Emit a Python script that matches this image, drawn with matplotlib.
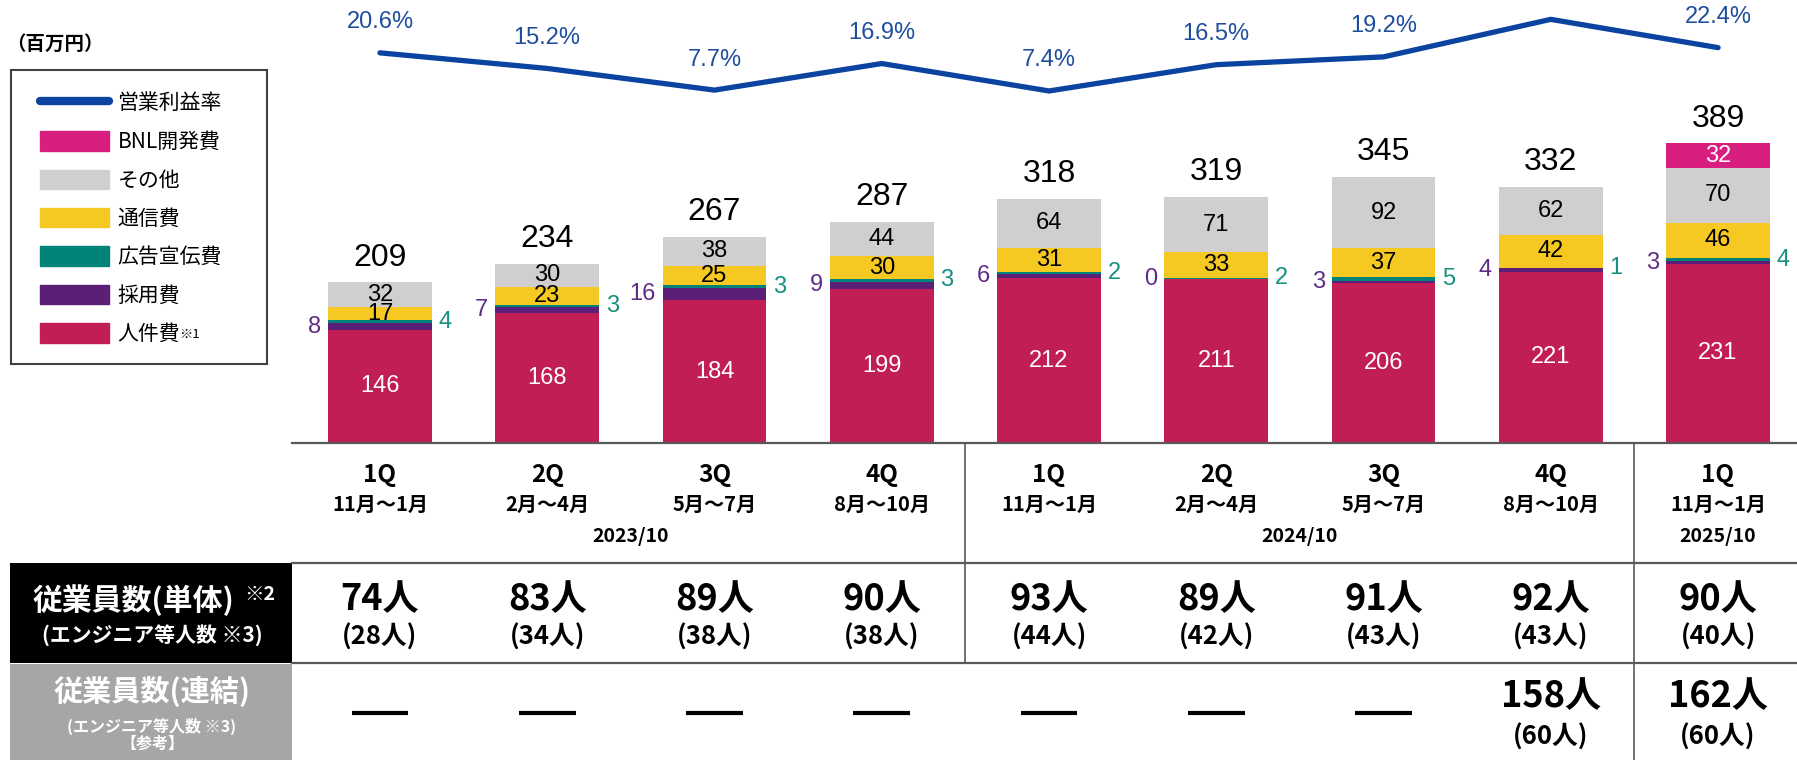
import numpy as np
import matplotlib.pyplot as plt
import matplotlib.transforms as mtransforms
from matplotlib.patches import Patch, Rectangle
from matplotlib.lines import Line2D

plt.rcParams['font.family'] = ['Liberation Sans', 'Noto Sans CJK JP']
NARROW = ['Liberation Sans Narrow', 'Noto Sans CJK JP']
CJK = ['Noto Sans CJK JP', 'Liberation Sans']

# ---- data ----
quarters = ['1Q', '2Q', '3Q', '4Q', '1Q', '2Q', '3Q', '4Q', '1Q']
months = ['11月～1月', '2月～4月', '5月～7月', '8月～10月',
          '11月～1月', '2月～4月', '5月～7月', '8月～10月', '11月～1月']
fiscal_years = ['2023/10', '2024/10', '2025/10']
fy_groups = [(0, 3), (4, 7), (8, 8)]

personnel = [146, 168, 184, 199, 212, 211, 206, 221, 231]   # 人件費
recruit = [8, 7, 16, 9, 6, 0, 3, 4, 3]                       # 採用費
advert = [4, 3, 3, 3, 2, 2, 5, 1, 4]                         # 広告宣伝費
telecom = [17, 23, 25, 30, 31, 33, 37, 42, 46]               # 通信費
other = [32, 30, 38, 44, 64, 71, 92, 62, 70]                 # その他
bnl = [0, 0, 0, 0, 0, 0, 0, 0, 32]                           # BNL開発費
totals = [209, 234, 267, 287, 318, 319, 345, 332, 389]

op_margin = [20.6, 15.2, 7.7, 16.9, 7.4, 16.5, 19.2, 32.2, 22.4]
margin_labels = ['20.6%', '15.2%', '7.7%', '16.9%', '7.4%', '16.5%', '19.2%', None, '22.4%']

staff_single = [74, 83, 89, 90, 93, 89, 91, 92, 90]
eng_single = [28, 34, 38, 38, 44, 42, 43, 43, 40]
staff_consol = [None, None, None, None, None, None, None, 158, 162]
eng_consol = [None, None, None, None, None, None, None, 60, 60]

c_personnel = '#C21E56'
c_recruit = '#5B1F78'
c_advert = '#00847A'
c_telecom = '#F5C922'
c_other = '#D0CECF'
c_bnl = '#D81F80'
c_line = '#0A43A0'

W_PX, H_PX = 1797, 760
fig = plt.figure(figsize=(W_PX / 100, H_PX / 100), dpi=100)

# pixel canvas for table frame, legend box etc.
axp = fig.add_axes([0, 0, 1, 1])
axp.set_xlim(0, W_PX)
axp.set_ylim(H_PX, 0)
axp.axis('off')

base_y = 443
ax = fig.add_axes([292 / W_PX, 1 - base_y / H_PX, (W_PX - 292) / W_PX, base_y / H_PX])
ax.patch.set_visible(False)
ax.set_xlim(-0.526, 8.472)
ax.set_ylim(0, base_y / 0.776)
for s in ['top', 'right', 'left']:
    ax.spines[s].set_visible(False)
ax.spines['bottom'].set_color('#595959')
ax.spines['bottom'].set_linewidth(1.6)
ax.set_xticks([])
ax.set_yticks([])

x = np.arange(len(quarters))
bw = 0.62
series = [(personnel, c_personnel), (recruit, c_recruit), (advert, c_advert),
          (telecom, c_telecom), (other, c_other), (bnl, c_bnl)]
bottoms = []
bottom = np.zeros(len(x))
for vals, col in series:
    vals = np.array(vals, dtype=float)
    ax.bar(x, vals, bw, bottom=bottom, color=col, linewidth=0)
    bottoms.append(bottom.copy())
    bottom = bottom + vals
top = bottom

# labels inside segments
inside = [(0, personnel, 'white'), (3, telecom, 'black'), (4, other, 'black'), (5, bnl, 'white')]
for k, vals, col in inside:
    for i, v in enumerate(vals):
        if v > 0:
            ax.text(i, bottoms[k][i] + v / 2, str(v), ha='center', va='center',
                    fontsize=17, color=col)

# side labels + totals
for i in x:
    ax.annotate(str(recruit[i]), xy=(i - bw / 2, bottoms[1][i] + recruit[i] / 2),
                xytext=(-5, 0), textcoords='offset points', ha='right', va='center',
                fontsize=17, color='#5E2C85')
    ax.annotate(str(advert[i]), xy=(i + bw / 2, bottoms[2][i] + advert[i] / 2),
                xytext=(5, 0), textcoords='offset points', ha='left', va='center',
                fontsize=17, color='#16907F')
    ax.annotate(str(totals[i]), xy=(i, top[i]), xytext=(0, 12), textcoords='offset points',
                ha='center', va='baseline', fontsize=23, color='black')

# operating margin line
ax2 = ax.twinx()
ax2.set_ylim(-114.5, 38.9)
ax2.axis('off')
ax2.plot(x, op_margin, color=c_line, lw=3.8, solid_capstyle='round', solid_joinstyle='miter')
for i, lab in enumerate(margin_labels):
    if lab:
        ax2.annotate(lab, xy=(i, op_margin[i]), xytext=(0, 22), textcoords='offset points',
                     ha='center', va='center', fontsize=17, color='#1F4E9E')

# ---- table below ----
bt = mtransforms.blended_transform_factory(ax.transData, axp.transData)
for i in x:
    axp.text(i, 475, quarters[i], transform=bt, ha='center', va='center',
             fontsize=17.5, fontweight='bold', family=NARROW)
    axp.text(i, 504, months[i], transform=bt, ha='center', va='center',
             fontsize=14.5, fontweight='bold', family=NARROW)
    axp.text(i, 600, f'{staff_single[i]}人', transform=bt, ha='center', va='center',
             fontsize=26, fontweight='bold', family=NARROW)
    axp.text(i, 637, f'({eng_single[i]}人)', transform=bt, ha='center', va='center',
             fontsize=18.5, fontweight='bold', family=NARROW)
    if staff_consol[i] is None:
        axp.add_line(Line2D([i - 0.17, i + 0.17], [713, 713], transform=bt,
                            color='black', lw=3, solid_capstyle='butt'))
    else:
        axp.text(i, 697, f'{staff_consol[i]}人', transform=bt, ha='center', va='center',
                 fontsize=26, fontweight='bold', family=NARROW)
        axp.text(i, 737, f'({eng_consol[i]}人)', transform=bt, ha='center', va='center',
                 fontsize=18.5, fontweight='bold', family=NARROW)
for fy, (a, b) in zip(fiscal_years, fy_groups):
    axp.text((a + b) / 2, 536, fy, transform=bt, ha='center', va='center',
             fontsize=14, fontweight='bold', family=NARROW)

# table grid lines
for yy in [563, 663]:
    axp.plot([292, W_PX], [yy, yy], color='#595959', lw=1.6)
axp.add_line(Line2D([3.5, 3.5], [base_y, 663], transform=bt, color='#595959', lw=1.2))
axp.add_line(Line2D([7.5, 7.5], [base_y, H_PX], transform=bt, color='#595959', lw=1.2))

# row header cells
axp.add_patch(Rectangle((10, 563), 282, 100, color='black', lw=0))
axp.add_patch(Rectangle((10, 664), 282, 96, color='#A6A6A6', lw=0))
axp.text(133, 600, '従業員数(単体)', ha='center', va='center', color='white',
         fontsize=21.5, fontweight='bold', family=CJK)
axp.text(244, 594, '※2', ha='left', va='center', color='white',
         fontsize=14, fontweight='bold', family=CJK)
axp.text(152, 635, '(エンジニア等人数 ※3)', ha='center', va='center', color='white',
         fontsize=15, fontweight='bold', family=CJK)
axp.text(152, 691, '従業員数(連結)', ha='center', va='center', color='white',
         fontsize=21, fontweight='bold', family=CJK)
axp.text(152, 726, '(エンジニア等人数 ※3)', ha='center', va='center', color='white',
         fontsize=11.5, fontweight='bold', family=CJK)
axp.text(152, 744, '【参考】', ha='center', va='center', color='white',
         fontsize=11.5, fontweight='bold', family=CJK)

# unit
axp.text(6, 44, '（百万円）', ha='left', va='center', fontsize=14, fontweight='bold', family=CJK)

# legend (frame drawn separately)
axp.add_patch(Rectangle((11, 70), 256, 294, fill=False, ec='#404040', lw=1.5))
handles = [Line2D([], [], color=c_line, lw=6, solid_capstyle='round'),
           Patch(color=c_bnl), Patch(color=c_other), Patch(color=c_telecom),
           Patch(color=c_advert), Patch(color=c_recruit), Patch(color=c_personnel)]
labels = ['営業利益率', 'BNL開発費', 'その他', '通信費', '広告宣伝費', '採用費', '人件費']
leg = fig.legend(handles, labels, loc='upper left',
                 bbox_to_anchor=(30 / W_PX, 1 - 82 / H_PX),
                 frameon=False, prop={'family': CJK, 'size': 15},
                 handlelength=3.3, handleheight=1.06,
                 handletextpad=0.4, labelspacing=0.79, borderpad=0.5, borderaxespad=0)
axp.text(179, 334, '※1', ha='left', va='center', fontsize=9.5, family=CJK)

fig.savefig('out.png', dpi=100)
